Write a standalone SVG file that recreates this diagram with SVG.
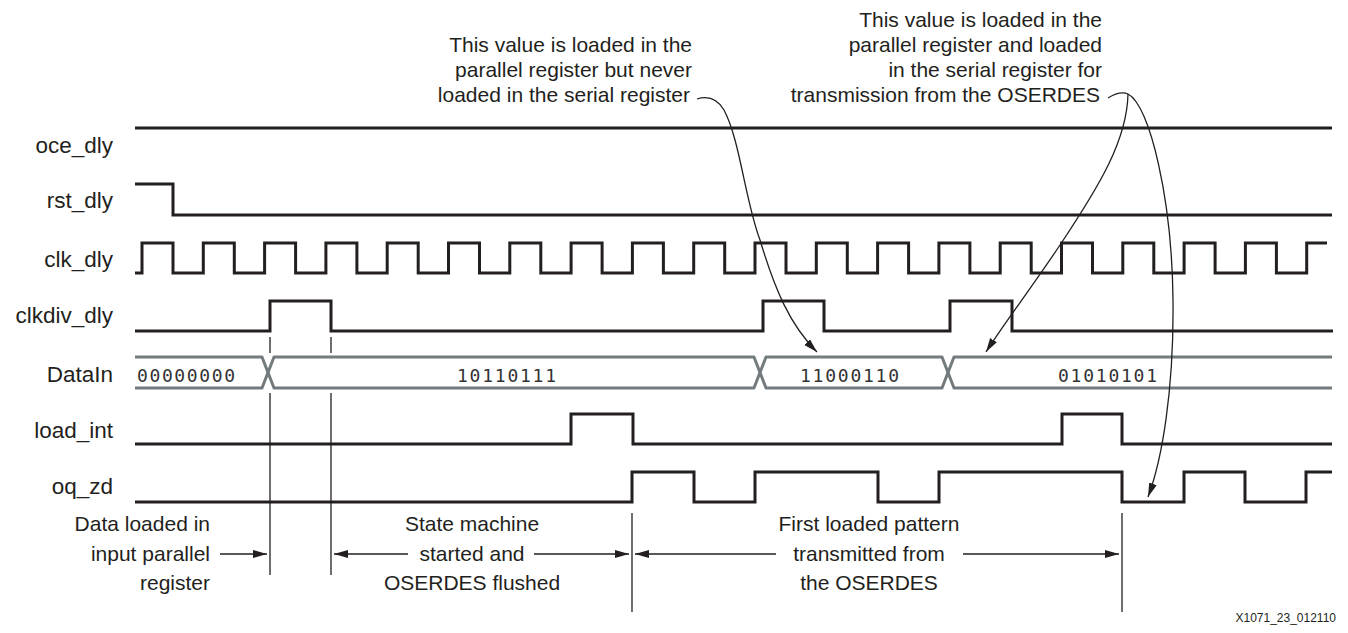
<svg xmlns="http://www.w3.org/2000/svg" width="1348" height="633" viewBox="0 0 1348 633">
  <style>
    .wave { fill: none; stroke: #231f20; stroke-width: 3; stroke-linejoin: miter; }
    .bus { fill: none; stroke: #737b7e; stroke-width: 3; stroke-linejoin: round; }
    .sig { font-family: "Liberation Sans", Arial, sans-serif; font-size: 22.5px; fill: #231f20; text-anchor: end; }
    .val { font-family: "DejaVu Sans Mono", "Liberation Mono", monospace; font-size: 18px; fill: #333333; }
    .note { font-family: "Liberation Sans", Arial, sans-serif; font-size: 21px; fill: #231f20; }
    .marker { fill: none; stroke: #231f20; stroke-width: 1.3; }
    .curve { fill: none; stroke: #231f20; stroke-width: 1.3; }
    .tag { font-family: "Liberation Sans", Arial, sans-serif; font-size: 12px; fill: #231f20; text-anchor: end; }
  </style>
  <defs>
    <marker id="head" markerUnits="userSpaceOnUse" markerWidth="16" markerHeight="10" refX="14" refY="4" orient="auto">
      <path d="M0,0 L14,4 L0,8 Z" fill="#231f20"/>
    </marker>
  </defs>

  <rect width="1348" height="633" fill="#ffffff"/>

  <!-- signal rows -->
  <g id="oce_dly">
    <text class="sig" x="113" y="153">oce_dly</text>
    <path class="wave" d="M135,128 H1332"/>
  </g>
  <g id="rst_dly">
    <text class="sig" x="113" y="208">rst_dly</text>
    <path class="wave" d="M135,184 H173 V215 H1332"/>
  </g>
  <g id="clk_dly">
    <text class="sig" x="113" y="267">clk_dly</text>
    <path class="wave" d="M135,273 H142 V243 H173 V273 H203.3 V243 H234.3 V273 H264.6 V243 H295.6 V273 H325.9 V243 H356.9 V273 H387.2 V243 H418.2 V273 H448.5 V243 H479.5 V273 H509.8 V243 H540.8 V273 H571.1 V243 H602.1 V273 H632.4 V243 H663.4 V273 H693.7 V243 H724.7 V273 H755 V243 H786 V273 H816.3 V243 H847.3 V273 H877.6 V243 H908.6 V273 H938.9 V243 H969.9 V273 H1000.2 V243 H1031.2 V273 H1061.5 V243 H1092.5 V273 H1122.8 V243 H1153.8 V273 H1184.1 V243 H1215.1 V273 H1245.4 V243 H1276.4 V273 H1306.7 V243 H1327"/>
  </g>
  <g id="clkdiv_dly">
    <text class="sig" x="113" y="323">clkdiv_dly</text>
    <path class="wave" d="M135,331 H270 V301 H331 V331 H763 V301 H824 V331 H950 V301 H1012 V331 H1333"/>
  </g>
  <g id="DataIn">
    <text class="sig" x="113" y="382">DataIn</text>
    <path class="bus" d="M135,357 H262 L274,388 H754 L766,357 H942 L954,388 H1332"/>
    <path class="bus" d="M135,388 H262 L274,357 H754 L766,388 H942 L954,357 H1332"/>
    <text class="val" x="137" y="382" textLength="98" lengthAdjust="spacing">00000000</text>
    <text class="val" x="457" y="382" textLength="99" lengthAdjust="spacing">10110111</text>
    <text class="val" x="800" y="382" textLength="99" lengthAdjust="spacing">11000110</text>
    <text class="val" x="1058" y="382" textLength="99" lengthAdjust="spacing">01010101</text>
  </g>
  <g id="load_int">
    <text class="sig" x="113" y="438">load_int</text>
    <path class="wave" d="M135,444 H571 V414 H633 V444 H1062 V414 H1122 V444 H1332"/>
  </g>
  <g id="oq_zd">
    <text class="sig" x="113" y="494">oq_zd</text>
    <path class="wave" d="M135,502 H632 V472 H694 V502 H755 V472 H878 V502 H939 V472 H1122 V502 H1184 V472 H1245 V502 H1306 V472 H1332"/>
  </g>

  <!-- callout texts -->
  <g id="note_never_loaded">
    <text class="note" text-anchor="end" x="692" y="52">This value is loaded in the</text>
    <text class="note" text-anchor="end" x="692" y="77">parallel register but never</text>
    <text class="note" text-anchor="end" x="690" y="102">loaded in the serial register</text>
  </g>
  <g id="note_transmitted">
    <text class="note" text-anchor="end" x="1102" y="27">This value is loaded in the</text>
    <text class="note" text-anchor="end" x="1102" y="52">parallel register and loaded</text>
    <text class="note" text-anchor="end" x="1102" y="77">in the serial register for</text>
    <text class="note" text-anchor="end" x="1100" y="102">transmission from the OSERDES</text>
  </g>

  <!-- phase descriptions -->
  <g id="phase_load">
    <text class="note" text-anchor="end" x="210" y="531">Data loaded in</text>
    <text class="note" text-anchor="end" x="210" y="561">input parallel</text>
    <text class="note" text-anchor="end" x="210" y="590">register</text>
  </g>
  <g id="phase_flush">
    <text class="note" text-anchor="middle" x="472" y="531">State machine</text>
    <text class="note" text-anchor="middle" x="472" y="561">started and</text>
    <text class="note" text-anchor="middle" x="472" y="590">OSERDES flushed</text>
  </g>
  <g id="phase_transmit">
    <text class="note" text-anchor="middle" x="869" y="531">First loaded pattern</text>
    <text class="note" text-anchor="middle" x="869" y="561">transmitted from</text>
    <text class="note" text-anchor="middle" x="869" y="590">the OSERDES</text>
  </g>

  <!-- connectors: time markers, span arrows and callout leaders -->
  <g id="connectors">
    <path class="marker" d="M270,337 V353 M270,393 V575"/>
    <path class="marker" d="M331,337 V353 M331,393 V575"/>
    <path class="marker" d="M632,513 V612"/>
    <path class="marker" d="M1122,513 V612"/>

    <path class="marker" d="M220,554 H267" marker-end="url(#head)"/>
    <path class="marker" d="M408,554 H334" marker-end="url(#head)"/>
    <path class="marker" d="M534,554 H629" marker-end="url(#head)"/>
    <path class="marker" d="M776,554 H635" marker-end="url(#head)"/>
    <path class="marker" d="M963,554 H1119" marker-end="url(#head)"/>

    <path class="curve" d="M697,99 C710,95 718,100 724,110 C740,140 745,200 760,240 C775,290 790,325 817,352" marker-end="url(#head)"/>
    <path class="curve" d="M1108,98 C1116,93 1123,92 1128,94"/>
    <path class="curve" d="M1128,94 C1127,140 1100,185 1060,245 C1030,290 1005,322 986,352" marker-end="url(#head)"/>
    <path class="curve" d="M1128,94 C1150,105 1172,200 1173,300 C1174,390 1162,460 1148,497" marker-end="url(#head)"/>
  </g>

  <text class="tag" x="1336" y="622">X1071_23_012110</text>
</svg>
